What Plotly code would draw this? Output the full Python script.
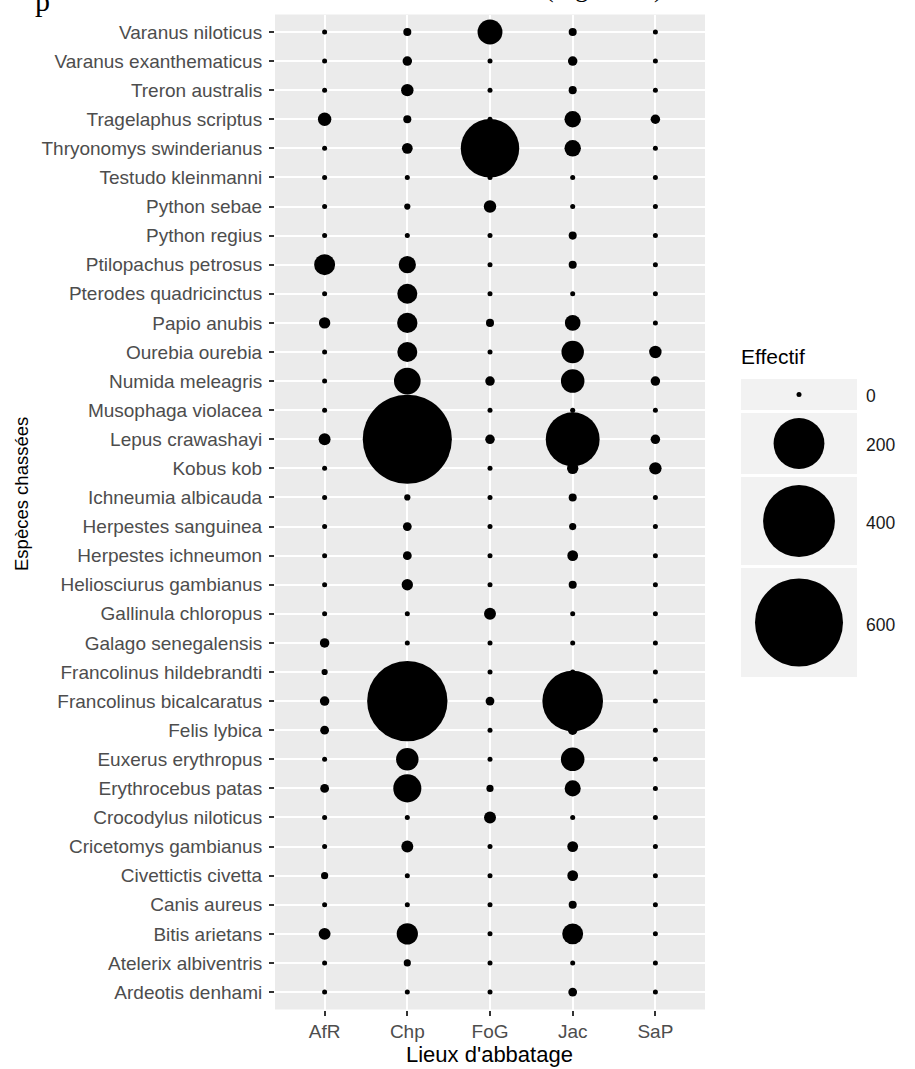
import plotly.graph_objects as go

W, H = 915, 1069

# Species, listed from the top row of the chart down to the bottom row
species = [
    "Varanus niloticus", "Varanus exanthematicus", "Treron australis",
    "Tragelaphus scriptus", "Thryonomys swinderianus", "Testudo kleinmanni",
    "Python sebae", "Python regius", "Ptilopachus petrosus",
    "Pterodes quadricinctus", "Papio anubis", "Ourebia ourebia",
    "Numida meleagris", "Musophaga violacea", "Lepus crawashayi", "Kobus kob",
    "Ichneumia albicauda", "Herpestes sanguinea", "Herpestes ichneumon",
    "Heliosciurus gambianus", "Gallinula chloropus", "Galago senegalensis",
    "Francolinus hildebrandti", "Francolinus bicalcaratus", "Felis lybica",
    "Euxerus erythropus", "Erythrocebus patas", "Crocodylus niloticus",
    "Cricetomys gambianus", "Civettictis civetta", "Canis aureus",
    "Bitis arietans", "Atelerix albiventris", "Ardeotis denhami",
]

sites = ["AfR", "Chp", "FoG", "Jac", "SaP"]

# Head counts per slaughter place, same order as `species`
afr = [0, 0, 0, 14, 0, 0, 0, 0, 34, 0, 10, 0, 0, 0, 11, 0, 0,
       0, 0, 0, 0, 7, 3, 7, 6, 0, 6, 0, 0, 4, 0, 11, 0, 0]
chp = [5, 7, 12, 5, 9, 1, 3, 1, 23, 31, 32, 31, 55, 0, 615, 0, 3,
       6, 6, 10, 1, 0, 0, 500, 0, 39, 61, 0, 11, 1, 1, 35, 4, 0]
fog = [48, 0, 0, 0, 265, 0, 12, 0, 0, 0, 5, 0, 7, 0, 7, 0, 0,
       0, 0, 0, 11, 0, 0, 6, 0, 0, 4, 11, 0, 0, 0, 0, 0, 0]
jac = [5, 7, 5, 21, 21, 1, 1, 5, 5, 0, 19, 39, 43, 2, 225, 10, 5,
       4, 9, 5, 1, 0, 2, 285, 7, 43, 20, 0, 9, 9, 5, 34, 0, 6]
sap = [0, 0, 0, 7, 0, 0, 0, 0, 0, 0, 1, 12, 7, 0, 7, 12, 0,
       0, 0, 0, 0, 0, 0, 1, 0, 0, 0, 0, 0, 0, 0, 0, 0, 0]

counts = {"AfR": afr, "Chp": chp, "FoG": fog, "Jac": jac, "SaP": sap}

legend_values = [0, 200, 400, 600]
legend_labels = ["0", "200", "400", "600"]

MAX_PX = 88                        # drawn width of a 600-animal bubble
SIZEREF = 2 * 600 / MAX_PX ** 2    # plotly area mode: d = sqrt(2 v / sizeref)
SIZEMIN = 2.5                      # a zero count still shows as a small dot
FONT = "Liberation Sans, Arial, sans-serif"
SERIF = "Liberation Serif, Times New Roman, serif"
PANEL = "#EBEBEB"


def px_x(px):
    return px / W


def px_y(py):
    return 1 - py / H


def bubble_sizes(values):
    # plotly drops markers whose size is exactly 0, so nudge zeros so that
    # sizemin applies to them
    return [v if v > 0 else 1e-6 for v in values]


fig = go.Figure()

for site in sites:
    fig.add_trace(go.Scatter(
        x=[site] * len(species),
        y=species,
        mode="markers",
        marker=dict(size=bubble_sizes(counts[site]), sizemode="area",
                    sizeref=SIZEREF, sizemin=SIZEMIN, color="black",
                    line=dict(width=0), opacity=1),
        showlegend=False,
        customdata=counts[site],
        hovertemplate="%{y}<br>%{x}: %{customdata}<extra></extra>",
        xaxis="x", yaxis="y",
    ))

# Size key on its own small axes pair (y measured in px from the key top)
key_top = [0, 34, 98, 189]
key_bottom = [31, 95, 186, 298]
key_mid = [(a + b) / 2 for a, b in zip(key_top, key_bottom)]

fig.add_trace(go.Scatter(
    x=[0.5] * len(legend_values),
    y=key_mid,
    mode="markers",
    marker=dict(size=bubble_sizes(legend_values), sizemode="area",
                sizeref=SIZEREF, sizemin=2.5, color="black",
                line=dict(width=0), opacity=1),
    showlegend=False,
    hoverinfo="skip",
    xaxis="x2", yaxis="y2",
))

shapes = [
    dict(type="rect", xref="x domain", yref="y domain", x0=0, x1=1, y0=0, y1=1,
         fillcolor=PANEL, line=dict(width=0), layer="below"),
]
for a, b in zip(key_top, key_bottom):
    shapes.append(dict(type="rect", xref="x2 domain", yref="y2", x0=0, x1=1,
                       y0=a, y1=b, fillcolor="#F2F2F2", line=dict(width=0),
                       layer="below"))

annotations = [
    dict(text="Lieux d'abbatage", xref="paper", yref="paper",
         x=px_x(489), y=px_y(1054), xanchor="center", yanchor="middle",
         showarrow=False, font=dict(family=FONT, size=22, color="black")),
    dict(text="Espèces chassées", xref="paper", yref="paper",
         x=px_x(21), y=px_y(494), xanchor="center", yanchor="middle",
         textangle=-90, showarrow=False,
         font=dict(family=FONT, size=18.5, color="black")),
    dict(text="Effectif", xref="paper", yref="paper",
         x=px_x(739), y=px_y(357), xanchor="left", yanchor="middle",
         showarrow=False, font=dict(family=FONT, size=21, color="black")),
    # running text of the surrounding page, cut by the top edge
    dict(text="p", xref="paper", yref="paper", x=px_x(33), y=px_y(19),
         xanchor="left", yanchor="bottom", showarrow=False,
         font=dict(family=SERIF, size=30, color="black")),
    dict(text="(Figure 10)", xref="paper", yref="paper", x=px_x(543),
         y=px_y(5), xanchor="left", yanchor="bottom", showarrow=False,
         font=dict(family=SERIF, size=26, color="black")),
]
for lab, ym in zip(legend_labels, key_mid):
    annotations.append(dict(text=lab, xref="paper", yref="y2", x=px_x(864),
                            y=ym + 2, xanchor="left", yanchor="middle",
                            showarrow=False,
                            font=dict(family=FONT, size=17.5, color="#1A1A1A")))

n = len(species)
fig.update_layout(
    width=W, height=H,
    margin=dict(l=0, r=0, t=0, b=0, pad=0),
    paper_bgcolor="white",
    plot_bgcolor="rgba(0,0,0,0)",
    showlegend=False,
    shapes=shapes,
    annotations=annotations,
    xaxis=dict(
        domain=[px_x(275), px_x(705)],
        type="category", categoryorder="array", categoryarray=sites,
        range=[-0.6, len(sites) - 0.4],
        showgrid=True, gridcolor="white", gridwidth=2,
        zeroline=False, showline=False,
        ticks="outside", ticklen=5, tickwidth=1.5, tickcolor="#333333",
        ticklabelstandoff=0,
        tickfont=dict(family=FONT, size=19, color="#4D4D4D"),
        fixedrange=True, automargin=False,
    ),
    yaxis=dict(
        domain=[px_y(1009.5), px_y(14.5)],
        type="category", categoryorder="array", categoryarray=species,
        range=[n - 0.4, -0.6],
        showgrid=True, gridcolor="white", gridwidth=2,
        zeroline=False, showline=False,
        ticks="outside", ticklen=5, tickwidth=1.5, tickcolor="#333333",
        ticklabelstandoff=3,
        tickfont=dict(family=FONT, size=19, color="#4D4D4D"),
        fixedrange=True, automargin=False,
    ),
    xaxis2=dict(domain=[px_x(741), px_x(857)], range=[0, 1], visible=False,
                fixedrange=True),
    yaxis2=dict(domain=[px_y(677), px_y(379)], range=[298, 0], visible=False,
                fixedrange=True),
)

fig.write_html("out.html")
